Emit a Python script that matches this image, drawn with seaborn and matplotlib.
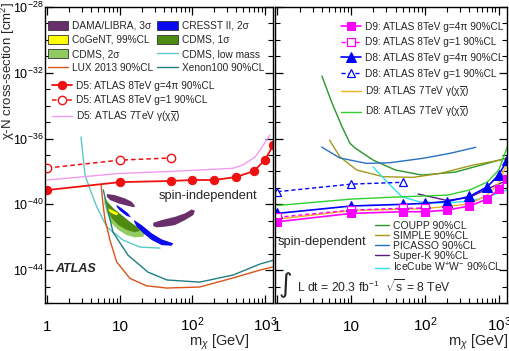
import numpy as np
import matplotlib
matplotlib.use("Agg")
import matplotlib.pyplot as plt
import seaborn as sns
from matplotlib.patches import Patch
from matplotlib.ticker import FixedLocator, FixedFormatter, NullFormatter

# ---------------- data: mass [GeV], log10(cross-section [cm^2]) ----------------
# left panel (spin-independent)
d5_mass = [1, 10, 50, 100, 200, 400, 700, 1000, 1300]
d5_g4pi = [-39.13, -38.65, -38.58, -38.52, -38.52, -38.34, -37.98, -37.30, -36.4]
d5_g1_mass = [1, 10, 50]
d5_g1 = [-37.79, -37.31, -37.18]
d5_7tev_mass = [1, 10, 50, 360, 500, 730, 850, 1170]
d5_7tev = [-38.52, -38.12, -38.00, -37.81, -37.60, -37.12, -36.70, -35.79]

lux_mass = [5.5, 5.8, 6.2, 7.3, 9.0, 13.7, 23, 44, 125, 360, 850, 1300]
lux_sig = [-38.8, -39.9, -40.9, -42.2, -43.5, -44.5, -44.95, -45.09, -45.03, -44.48, -44.0, -43.8]
xenon_mass = [5.9, 8.0, 12.9, 24.3, 44.5, 126, 362, 853, 1300]
xenon_sig = [-39.13, -41.69, -43.09, -44.12, -44.6, -44.73, -44.3, -43.63, -43.4]
cdmslow_mass = [2.9, 3.3, 3.9, 4.8, 6.6, 11.0, 18.9, 35.6]
cdmslow_sig = [-35.91, -38.22, -39.13, -40.17, -41.38, -42.17, -42.6, -42.66]

dama_lo_m = [6.6, 8.5, 11.7, 14.5, 16.1, 15.7, 13.0, 9.5, 7.3, 6.6]
dama_lo_s = [-39.37, -39.44, -39.64, -39.84, -40.10, -40.18, -40.10, -39.94, -39.74, -39.54]
dama_hi_m = [28.8, 37.6, 57.4, 78.8, 97.5, 108, 103, 78.8, 57.4, 41.8, 32.1, 28.8]
dama_hi_s = [-41.12, -40.96, -40.76, -40.55, -40.31, -40.39, -40.65, -40.96, -41.26, -41.36, -41.40, -41.32]
cresst1_m = [9.0, 10.55, 13.0, 14.2, 12.4, 10.0, 9.0]
cresst1_s = [-40.04, -40.24, -40.55, -40.79, -40.71, -40.39, -40.15]
cresst2_m = [15.7, 19.9, 27.4, 37.6, 54.3, 51.6, 37.6, 27.4, 21.0, 17.0, 15.7]
cresst2_s = [-40.96, -41.26, -41.76, -42.13, -42.37, -42.52, -42.48, -42.17, -41.76, -41.36, -41.06]
cdms2_m = [6.07, 7.7, 10.55, 14.5, 18.9, 22.1, 21.0, 16.1, 12.4, 9.5, 7.7, 6.6, 6.07]
cdms2_s = [-39.54, -40.15, -40.76, -41.16, -41.46, -41.76, -41.97, -42.01, -41.87, -41.56, -41.16, -40.55, -39.94]
cdms1_m = [6.6, 8.1, 10.55, 13.7, 17.0, 18.9, 16.1, 12.4, 9.5, 7.7, 6.8]
cdms1_s = [-39.84, -40.24, -40.65, -41.06, -41.36, -41.61, -41.70, -41.56, -41.26, -40.85, -40.35]
cogent_m = [6.9, 8.1, 9.5, 9.0, 7.7, 6.9]
cogent_s = [-40.24, -40.39, -40.55, -40.67, -40.55, -40.39]

# right panel (spin-dependent)
d89_mass = [1, 10, 50, 100, 200, 400, 700, 1000, 1300]
d9_g4pi = [-41.06, -40.55, -40.45, -40.45, -40.35, -40.10, -39.68, -39.07, -38.48]
d9_g1_mass = [1, 10, 50, 100]
d9_g1 = [-40.79, -40.35, -40.24, -40.23]
d8_g4pi = [-40.55, -40.10, -40.00, -39.94, -39.83, -39.52, -38.93, -38.20, -37.30]
d8_g1_mass = [1, 10, 50]
d8_g1 = [-39.23, -38.77, -38.66]
d9_7tev_mass = [1, 10, 100, 400, 700, 1000, 1300]
d9_7tev = [-40.90, -40.38, -40.26, -39.98, -39.43, -38.70, -37.50]
d8_7tev_mass = [1, 10, 50, 200, 400, 700, 1000, 1300]
d8_7tev = [-40.07, -39.68, -39.54, -39.44, -39.13, -38.64, -37.91, -36.50]

coupp_mass = [4.0, 5.5, 7.5, 9.6, 11.3, 19.8, 39.4, 90.5, 256, 723, 1420]
coupp_sig = [-32.2, -33.86, -35.28, -36.29, -36.58, -37.31, -37.91, -38.22, -38.04, -37.49, -37.12]
simple_mass = [5.07, 7.0, 11.8, 27, 69, 160, 449, 1410]
simple_sig = [-36.09, -37.11, -37.91, -38.32, -38.36, -38.12, -37.61, -37.2]
picasso_mass = [3.97, 7.0, 16.1, 33.3, 94, 217, 488]
picasso_sig = [-36.52, -37.18, -37.51, -37.47, -37.20, -36.9, -36.53]
superk_mass = [80.7, 195, 396, 716, 1337]
superk_sig = [-39.37, -39.76, -39.59, -39.04, -38.52]
icecube_mass = [19.8, 31.6, 48.5, 86, 193, 408, 762, 1295]
icecube_sig = [-37.73, -38.71, -39.54, -39.86, -39.92, -39.80, -39.5, -39.13]

x_ticks = [1, 10, 100, 1000]
x_ticklabels = ["1", "10", r"$10^{2}$", r"$10^{3}$"]
y_major_exp = [-44, -40, -36, -32, -28]
y_ticklabels = [r"$10^{-44}$", r"$10^{-40}$", r"$10^{-36}$", r"$10^{-32}$", r"$10^{-28}$"]

# ---------------- style ----------------
sns.set_theme(style="ticks")
plt.rcParams["font.family"] = ["Liberation Sans", "DejaVu Sans"]
plt.rcParams["mathtext.fontset"] = "custom"
plt.rcParams["mathtext.rm"] = "Liberation Sans"
plt.rcParams["mathtext.it"] = "Liberation Sans:italic"
plt.rcParams["mathtext.bf"] = "Liberation Sans:bold"

fig = plt.figure(figsize=(5.1, 3.51), dpi=100)
axL = fig.add_axes([45 / 510, 48 / 351, 228 / 510, 296 / 351])
axR = fig.add_axes([275 / 510, 48 / 351, 232 / 510, 296 / 351])


def setup(ax, labels):
    ax.set_xscale("log")
    ax.set_yscale("log")
    ax.set_xlim(0.925, 1290)
    ax.set_ylim(1e-46, 1e-28)
    ax.xaxis.set_major_locator(FixedLocator(x_ticks))
    ax.xaxis.set_major_formatter(FixedFormatter(x_ticklabels))
    minors = [k * 10.0 ** d for d in range(-1, 4) for k in range(2, 10)]
    ax.xaxis.set_minor_locator(FixedLocator(minors))
    ax.xaxis.set_minor_formatter(NullFormatter())
    ax.yaxis.set_major_locator(FixedLocator([10.0 ** e for e in y_major_exp]))
    ax.yaxis.set_major_formatter(FixedFormatter(y_ticklabels))
    ax.yaxis.set_minor_locator(FixedLocator([10.0 ** e for e in range(-46, -27) if e not in y_major_exp]))
    ax.yaxis.set_minor_formatter(NullFormatter())
    ax.tick_params(which="both", direction="in", top=True, right=True, colors="black")
    ax.tick_params(which="major", length=6, width=0.9)
    ax.tick_params(which="minor", length=3.5, width=0.8)
    ax.tick_params(axis="x", which="major", pad=20.5, labelsize=11)
    ax.tick_params(axis="y", which="major", pad=1.0, labelsize=9.0)
    if not labels:
        ax.tick_params(labelleft=False)
    for s in ax.spines.values():
        s.set_linewidth(1.0)
        s.set_color("black")
    ax.grid(False)
    ax.set_facecolor("white")
    for t in ax.xaxis.get_major_ticks():
        t.label1.set_verticalalignment("baseline")


setup(axL, True)
setup(axR, False)


def curve(ax, m, logs, label=None, **kw):
    sns.lineplot(x=np.asarray(m, float), y=10.0 ** np.asarray(logs, float), ax=ax,
                 estimator=None, sort=False, errorbar=None, legend=False, **kw)
    ln = ax.lines[-1]
    if label:
        ln.set_label(label)
    return ln


def blob(ax, m, logs, color):
    ax.fill(np.asarray(m, float), 10.0 ** np.asarray(logs, float), color=color, lw=0, zorder=2)


c_dama, c_cresst, c_cogent = "#6a2f6a", "#0a0af0", "#ffff00"
c_cdms1, c_cdms2, c_cdmslow = "#4f8a10", "#90cc60", "#5cc9c9"
c_lux, c_xenon = "#d9541a", "#207f80"
c_red, c_pink = "#f01010", "#f09bf0"

# ---------------- left panel ----------------
blob(axL, cdms2_m, cdms2_s, c_cdms2)
blob(axL, cdms1_m, cdms1_s, c_cdms1)
blob(axL, cogent_m, cogent_s, c_cogent)
blob(axL, dama_lo_m, dama_lo_s, c_dama)
blob(axL, dama_hi_m, dama_hi_s, c_dama)
blob(axL, cresst1_m, cresst1_s, c_cresst)
blob(axL, cresst2_m, cresst2_s, c_cresst)

h_low = curve(axL, cdmslow_mass, cdmslow_sig, "CDMS, low mass", color=c_cdmslow, lw=1.0)
h_xen = curve(axL, xenon_mass, xenon_sig, "Xenon100 90%CL", color=c_xenon, lw=1.0)
h_lux = curve(axL, lux_mass, lux_sig, "LUX 2013 90%CL", color=c_lux, lw=1.0)
h_d57 = curve(axL, d5_7tev_mass, d5_7tev, "D5: ATLAS 7TeV $\\mathrm{\\gamma(\\chi\\overline{\\chi})}$", color=c_pink, lw=1.0)
h_d51 = curve(axL, d5_g1_mass, d5_g1, "D5: ATLAS 8TeV g=1 90%CL", color=c_red, lw=1.1,
              linestyle=(0, (3, 2)), marker="o", markersize=6, markerfacecolor="white",
              markeredgecolor=c_red, markeredgewidth=1.0)
h_d54 = curve(axL, d5_mass, d5_g4pi, "D5: ATLAS 8TeV g=4π 90%CL", color=c_red, lw=1.3,
              marker="o", markersize=6, markerfacecolor=c_red, markeredgecolor=c_red)

pe = dict(edgecolor="#333333", lw=0.6)
p_dama = Patch(facecolor=c_dama, label="DAMA/LIBRA, 3σ", **pe)
p_cresst = Patch(facecolor=c_cresst, label="CRESST II, 2σ", **pe)
p_cogent = Patch(facecolor=c_cogent, label="CoGeNT, 99%CL", **pe)
p_cdms1 = Patch(facecolor=c_cdms1, label="CDMS, 1σ", **pe)
p_cdms2 = Patch(facecolor=c_cdms2, label="CDMS, 2σ", **pe)

leg1 = axL.legend(handles=[p_dama, p_cogent, p_cdms2, h_lux, p_cresst, p_cdms1, h_low, h_xen],
                  ncol=2, loc="upper left", bbox_to_anchor=(0.013, 0.953), frameon=False,
                  fontsize=7.3, handlelength=2.0, handleheight=0.9, handletextpad=0.4,
                  columnspacing=0.4, labelspacing=0.4, borderpad=0, borderaxespad=0)
axL.add_artist(leg1)
axL.legend(handles=[h_d54, h_d51, h_d57], loc="upper left", bbox_to_anchor=(0.031, 0.75),
           frameon=False, fontsize=7.3, handlelength=2.0, handletextpad=0.4,
           labelspacing=0.4, borderpad=0, borderaxespad=0)

axL.text(0.5, 0.3615, "spin-independent", transform=axL.transAxes, fontsize=9.3,
         ha="left", va="center")
axL.text(0.044, 0.115, "ATLAS", transform=axL.transAxes, fontsize=9, fontweight="bold",
         fontstyle="italic", ha="left", va="center")

# ---------------- right panel ----------------
c_mag, c_blue = "#ff00ff", "#0000ff"
h_coupp = curve(axR, coupp_mass, coupp_sig, "COUPP 90%CL", color="#289628", lw=1.0)
h_simple = curve(axR, simple_mass, simple_sig, "SIMPLE 90%CL", color="#a39a1c", lw=1.0)
h_pic = curve(axR, picasso_mass, picasso_sig, "PICASSO 90%CL", color="#2a70c0", lw=1.0)
h_ice = curve(axR, icecube_mass, icecube_sig, "IceCube W$^{+}$W$^{-}$ 90%CL", color="#30e0f0", lw=1.0)
h_sk = curve(axR, superk_mass, superk_sig, "Super-K 90%CL", color="#5a1a80", lw=1.0)
h_d87 = curve(axR, d8_7tev_mass, d8_7tev, "D8: ATLAS 7TeV $\\mathrm{\\gamma(\\chi\\overline{\\chi})}$", color="#30d030", lw=1.0)
h_d97 = curve(axR, d9_7tev_mass, d9_7tev, "D9: ATLAS 7TeV $\\mathrm{\\gamma(\\chi\\overline{\\chi})}$", color="#f5b020", lw=1.0)
h_d81 = curve(axR, d8_g1_mass, d8_g1, "D8: ATLAS 8TeV g=1 90%CL", color=c_blue, lw=1.0,
              linestyle=(0, (3, 2)), marker="^", markersize=6, markerfacecolor="white",
              markeredgecolor=c_blue, markeredgewidth=0.9)
h_d84 = curve(axR, d89_mass, d8_g4pi, "D8: ATLAS 8TeV g=4π 90%CL", color=c_blue, lw=1.2,
              marker="^", markersize=6.5, markerfacecolor=c_blue, markeredgecolor=c_blue)
h_d91 = curve(axR, d9_g1_mass, d9_g1, "D9: ATLAS 8TeV g=1 90%CL", color=c_mag, lw=1.0,
              linestyle=(0, (3, 2)), marker="s", markersize=5.5, markerfacecolor="white",
              markeredgecolor=c_mag, markeredgewidth=0.9)
h_d94 = curve(axR, d89_mass, d9_g4pi, "D9: ATLAS 8TeV g=4π 90%CL", color=c_mag, lw=1.2,
              marker="s", markersize=5.8, markerfacecolor=c_mag, markeredgecolor=c_mag)

leg3 = axR.legend(handles=[h_d94, h_d91, h_d84, h_d81, h_d97, h_d87], loc="upper left",
                  bbox_to_anchor=(0.2845, 0.95), frameon=False, fontsize=7.3,
                  handlelength=2.0, handletextpad=0.4, labelspacing=0.55,
                  borderpad=0, borderaxespad=0)
axR.add_artist(leg3)
axR.legend(handles=[h_coupp, h_simple, h_pic, h_sk, h_ice], loc="upper left",
           bbox_to_anchor=(0.431, 0.278), frameon=False, fontsize=7.5,
           handlelength=1.3, handletextpad=0.4, labelspacing=0.0,
           borderpad=0, borderaxespad=0)

axR.text(0.013, 0.206, "spin-dependent", transform=axR.transAxes, fontsize=9.3,
         ha="left", va="center")
axR.text(0.043, 0.061, "∫", transform=axR.transAxes, fontsize=19,
         family="DejaVu Sans", ha="center", va="center")
axR.text(0.095, 0.054, r"L dt = 20.3 fb$^{-1}$  $\sqrt{\mathrm{s}}$ = 8 TeV",
         transform=axR.transAxes, fontsize=8.7, ha="left", va="center")

# axis titles
fig.text(8.2 / 510, 1 - 2 / 351, "χ-N cross-section [cm$^{2}$]", rotation=90,
         ha="center", va="top", fontsize=9.5)
fig.text(250 / 510, 0.0145, r"m$_{\chi}$ [GeV]", ha="right", va="baseline", fontsize=10.5)
fig.text(509 / 510, 0.0145, r"m$_{\chi}$ [GeV]", ha="right", va="baseline", fontsize=10.5)

fig.savefig("out.png", dpi=100)
